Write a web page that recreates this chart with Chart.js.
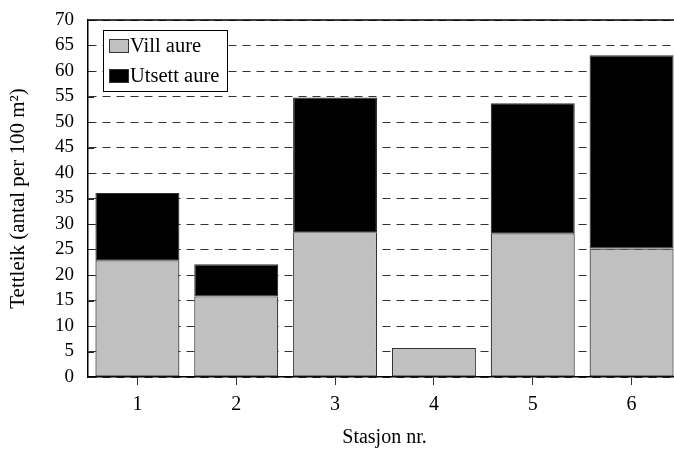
<!DOCTYPE html>
<html>
<head>
<meta charset="utf-8">
<script src="https://cdn.jsdelivr.net/npm/chart.js@4/dist/chart.umd.min.js"></script>
<style>
html, body { margin: 0; padding: 0; background: #fff; overflow: hidden; }
</style>
</head>
<body>
<!-- canvas a bit wider than the window: the plot's right edge is cut off in the original -->
<canvas id="trautChart" width="682" height="450"></canvas>
<script>
// Data
const stations = ['1', '2', '3', '4', '5', '6'];
const villAure = [22.9, 15.8, 28.4, 5.7, 28.2, 25.2];
const utsettAure = [13.2, 6.3, 26.4, 0, 25.5, 37.9];
const seriesLabels = ['Vill aure', 'Utsett aure'];
const seriesColors = ['#c0c0c0', '#000000'];

const serif = '"Liberation Serif", "DejaVu Serif", serif';

// Solid top line of the plot frame and inward ticks on the y axis
const frameLines = {
    id: 'frameLines',
    beforeDatasetsDraw(chart) {
        const ctx = chart.ctx;
        const area = chart.chartArea;
        const y = chart.scales.y;
        ctx.save();
        ctx.strokeStyle = '#222';
        ctx.lineWidth = 1;
        y.ticks.forEach(t => {
            const py = Math.round(y.getPixelForValue(t.value)) + 0.5;
            ctx.beginPath();
            ctx.moveTo(area.left, py);
            ctx.lineTo(area.left + 6, py);
            ctx.stroke();
        });
        ctx.restore();
    },
    afterDatasetsDraw(chart) {
        const ctx = chart.ctx;
        const area = chart.chartArea;
        ctx.save();
        ctx.strokeStyle = '#000';
        ctx.lineWidth = 1.5;
        ctx.beginPath();
        ctx.moveTo(area.left, area.top);
        ctx.lineTo(chart.width, area.top);
        ctx.stroke();
        ctx.restore();
    }
};

// Boxed legend inside the plot, top left
const insideLegend = {
    id: 'insideLegend',
    afterDraw(chart) {
        const ctx = chart.ctx;
        const area = chart.chartArea;
        const x = area.left + 15;
        const y = area.top + 10;
        ctx.save();
        ctx.fillStyle = '#fff';
        ctx.fillRect(x, y, 124, 61);
        ctx.strokeStyle = '#000';
        ctx.lineWidth = 1;
        ctx.strokeRect(x + 0.5, y + 0.5, 124, 61);
        ctx.font = '20.5px ' + serif;
        ctx.textBaseline = 'middle';
        chart.data.datasets.forEach((ds, i) => {
            const cy = y + 16 + i * 30;
            ctx.fillStyle = ds.backgroundColor;
            ctx.fillRect(x + 6, cy - 7, 20, 14);
            ctx.strokeStyle = '#333';
            ctx.strokeRect(x + 6.5, cy - 6.5, 19, 13);
            ctx.fillStyle = '#000';
            ctx.fillText(ds.label, x + 27, cy + 1);
        });
        ctx.restore();
    }
};

const trautChart = new Chart(document.getElementById('trautChart').getContext('2d'), {
    type: 'bar',
    data: {
        labels: stations,
        datasets: [{
            label: seriesLabels[0],
            data: villAure,
            backgroundColor: seriesColors[0],
            borderColor: '#333',
            borderWidth: 1.2,
            borderSkipped: false,
            categoryPercentage: 1,
            barPercentage: 0.85,
        }, {
            label: seriesLabels[1],
            data: utsettAure,
            backgroundColor: seriesColors[1],
            borderColor: '#333',
            borderWidth: 1.2,
            borderSkipped: false,
            categoryPercentage: 1,
            barPercentage: 0.85,
        }]
    },
    options: {
        responsive: false,
        animation: false,
        layout: {
            padding: { top: 20, right: 1, left: 0, bottom: 0 },
        },
        scales: {
            x: {
                stacked: true,
                grid: {
                    offset: false,
                    drawOnChartArea: false,
                    drawTicks: true,
                    tickLength: 8,
                    color: '#333',
                },
                border: {
                    color: '#000',
                    width: 1.5,
                },
                ticks: {
                    color: '#000',
                    padding: 8,
                    font: { family: serif, size: 20 },
                },
                title: {
                    display: true,
                    text: 'Stasjon nr.',
                    color: '#000',
                    font: { family: serif, size: 20 },
                    padding: { top: 0, bottom: 0 },
                },
                afterFit(scale) {
                    scale.height = 73;
                    scale.paddingLeft = 0;
                    scale.paddingRight = 0;
                },
            },
            y: {
                stacked: true,
                min: 0,
                max: 70,
                grid: {
                    color: '#333',
                    drawTicks: false,
                },
                border: {
                    color: '#000',
                    width: 1.5,
                    dash: [8, 6],
                },
                ticks: {
                    stepSize: 5,
                    autoSkip: false,
                    color: '#000',
                    padding: 14,
                    font: { family: serif, size: 19 },
                },
                title: {
                    display: true,
                    text: 'Tettleik (antal per 100 m²)',
                    color: '#000',
                    font: { family: serif, size: 21 },
                    padding: { top: 6, bottom: 0 },
                },
                afterFit(scale) {
                    scale.width = 88;
                    scale.paddingTop = 0;
                    scale.paddingBottom = 0;
                },
            },
        },
        plugins: {
            legend: { display: false },
            tooltip: { enabled: false },
        },
    },
    plugins: [frameLines, insideLegend],
});
</script>
</body>
</html>
